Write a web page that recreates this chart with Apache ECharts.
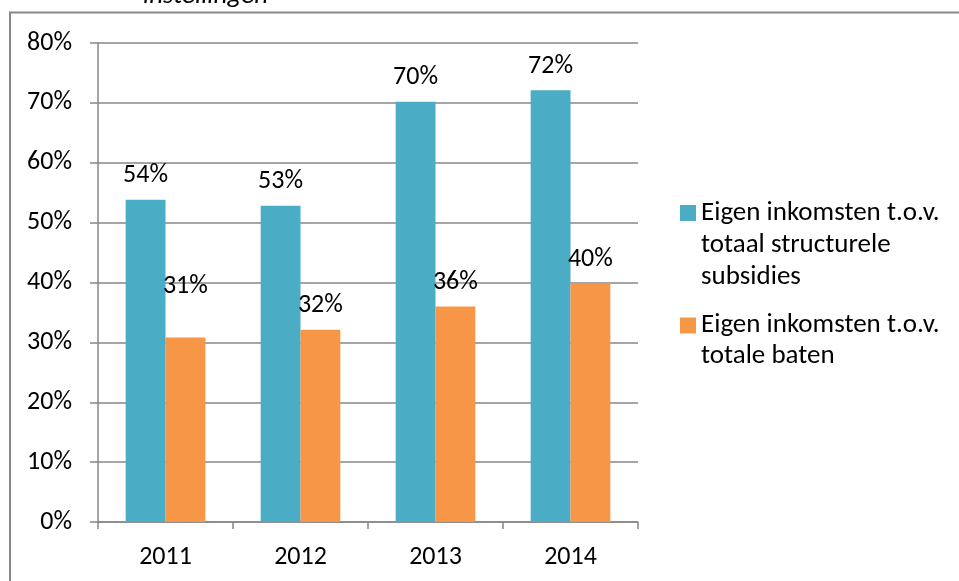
<!DOCTYPE html>
<html>
<head>
<meta charset="utf-8">
<script src="https://cdn.jsdelivr.net/npm/echarts@6/dist/echarts.min.js"></script>
<style>html,body{margin:0;padding:0;background:#fff}#c{width:959px;height:581px}</style>
</head>
<body>
<div id="c"></div>
<script>
const categories = ['2011', '2012', '2013', '2014'];
const seriesNames = ['Eigen inkomsten t.o.v. totaal structurele subsidies', 'Eigen inkomsten t.o.v. totale baten'];
const subsidiesValues = [53.8, 52.8, 70.2, 72.1];
const batenValues = [30.8, 32.1, 36.0, 39.8];
const legendLines = [['Eigen inkomsten t.o.v.', 'totaal structurele', 'subsidies'], ['Eigen inkomsten t.o.v.', 'totale baten']];
const yTicks = [0, 10, 20, 30, 40, 50, 60, 70, 80];

const FONT = "Carlito, 'Open Sans', 'Noto Sans', sans-serif";
const FS = 26;
const chart = echarts.init(document.getElementById('c'), null, {renderer: 'canvas'});

function makeLegend(idx, top, lh) {
  const lines = legendLines[idx];
  const blanks = new Array(lines.length - 1).fill(' ');
  return {
    data: [{name: seriesNames[idx]}],
    left: 680, top: top, padding: 0,
    itemWidth: 16, itemHeight: 16, itemGap: 0,
    icon: 'rect',
    formatter: () => blanks.concat(lines).join('\n'),
    textStyle: {fontFamily: FONT, fontSize: 27, color: '#000', lineHeight: lh},
    selectedMode: false
  };
}

const labelBase = {show: true, position: 'top', distance: 11, fontFamily: FONT, fontSize: FS, color: '#000',
  formatter: p => Math.round(p.value) + '%'};

chart.setOption({
  animation: false,
  grid: {left: 98, right: 321, top: 43, bottom: 59, containLabel: false},
  legend: [makeLegend(0, 133, 32), makeLegend(1, 279, 31)],
  graphic: [
    {type: 'rect', shape: {x: 10, y: 12.5, width: 980, height: 620}, style: {fill: 'none', stroke: '#878787', lineWidth: 2}, silent: true},
    {type: 'text', x: 143, y: 10, style: {text: 'instellingen', font: 'italic 27px ' + FONT, fill: '#000', verticalAlign: 'bottom'}}
  ],
  xAxis: {
    type: 'category', data: categories,
    axisLine: {lineStyle: {color: '#878787', width: 1.5}},
    axisTick: {show: true, length: 7, lineStyle: {color: '#878787', width: 1.5}},
    axisLabel: {fontFamily: FONT, fontSize: FS, color: '#000', margin: 22}
  },
  yAxis: {
    type: 'value', min: 0, max: 80, interval: 10,
    axisLine: {show: true, lineStyle: {color: '#878787', width: 1.5}},
    axisTick: {show: true, length: 8, lineStyle: {color: '#878787', width: 1.5}},
    splitLine: {lineStyle: {color: '#878787', width: 1.5}},
    axisLabel: {fontFamily: FONT, fontSize: FS, color: '#000', margin: 26, formatter: v => yTicks.includes(v) ? v + '%' : ''}
  },
  series: [
    {name: seriesNames[0], type: 'bar', data: subsidiesValues, barGap: '0%', barCategoryGap: '41%',
      itemStyle: {color: '#4BACC6'}, label: labelBase},
    {name: seriesNames[1], type: 'bar', data: batenValues.map((v, i) => i === 0 ? {value: v, label: {distance: 38}} : v),
      barGap: '0%', barCategoryGap: '41%', itemStyle: {color: '#F79646'}, label: labelBase}
  ]
});
</script>
</body>
</html>
